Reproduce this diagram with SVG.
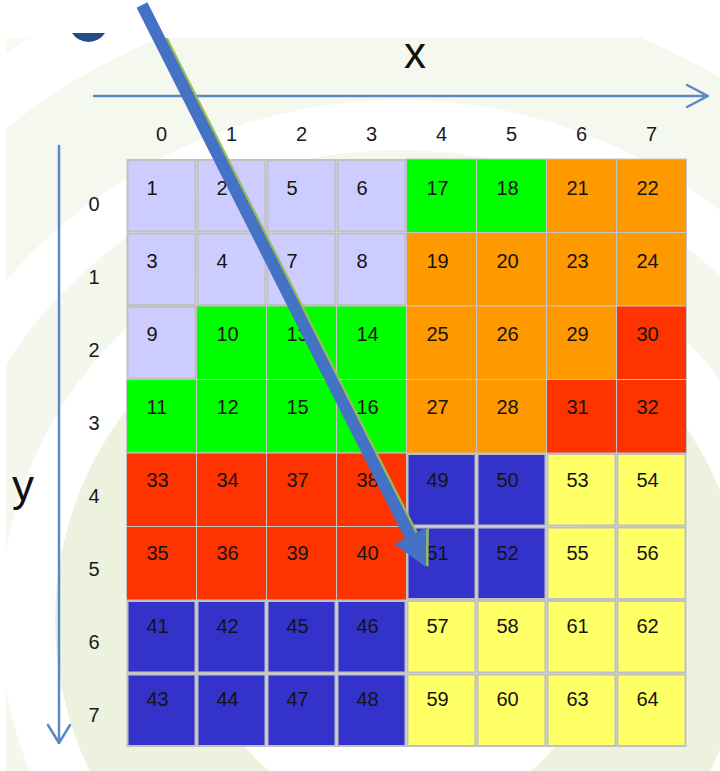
<svg xmlns="http://www.w3.org/2000/svg" width="720" height="771" viewBox="0 0 720 771">
<defs>
<style>
.n{font-family:"Liberation Sans",Arial,sans-serif;font-size:20px;fill:#141414}
.ax{font-family:"Liberation Sans",Arial,sans-serif;font-size:20px;fill:#1a1a1a;text-anchor:middle}
.lbl{font-family:"Liberation Sans",Arial,sans-serif;font-size:44px;fill:#111;text-anchor:middle}
.thin{stroke:#c4c4c4;stroke-width:1}
.gr{fill:#c0c0c0}
.L{fill:#ccccff}.G{fill:#00ff00}.O{fill:#ff9900}.R{fill:#ff3300}.B{fill:#3333cc}.Y{fill:#ffff66}
.axis{fill:none;stroke:#5a89c5;stroke-width:2.5;stroke-linecap:round;stroke-linejoin:round}
</style>
<clipPath id="bg"><rect x="6" y="38" width="714" height="733"/></clipPath>
<clipPath id="below"><rect x="0" y="38" width="720" height="733"/></clipPath>
</defs>
<rect width="720" height="771" fill="#ffffff"/>
<g id="background" clip-path="url(#bg)">
<rect x="6" y="38" width="714" height="733" fill="#f8faf2"/>
<circle cx="400" cy="620" r="690" fill="#ffffff"/>
<circle cx="400" cy="620" r="630" fill="#f5f8ee"/>
<circle cx="400" cy="620" r="520" fill="#ffffff"/>
<circle cx="400" cy="620" r="470" fill="#f4f7ec"/>
<circle cx="400" cy="620" r="400" fill="#ffffff"/>
<circle cx="400" cy="620" r="345" fill="#ecf2de"/>
<circle cx="400" cy="620" r="200" fill="#ffffff"/>
</g>
<path id="logo" d="M72 33 A19.6 19.6 0 0 0 105 33 Z" fill="#224d8b"/>
<g id="axes">
<path class="axis" d="M94 96 H707 M687 85 L708 96 L687 107"/>
<path class="axis" d="M59 146 V743 M48 725 L59 743 L70 725"/>
<text class="lbl" x="415" y="68">x</text>
<text class="lbl" x="23" y="501">y</text>
<text class="ax" x="161.5" y="141">0</text>
<text class="ax" x="231.5" y="141">1</text>
<text class="ax" x="301.5" y="141">2</text>
<text class="ax" x="371.5" y="141">3</text>
<text class="ax" x="441.5" y="141">4</text>
<text class="ax" x="511.5" y="141">5</text>
<text class="ax" x="581.5" y="141">6</text>
<text class="ax" x="651.5" y="141">7</text>
<text class="ax" x="94" y="211">0</text>
<text class="ax" x="94" y="284">1</text>
<text class="ax" x="94" y="357">2</text>
<text class="ax" x="94" y="430">3</text>
<text class="ax" x="94" y="503">4</text>
<text class="ax" x="94" y="576">5</text>
<text class="ax" x="94" y="649">6</text>
<text class="ax" x="94" y="722">7</text>
</g>
<g id="grid-thin">
<g id="c17"><rect class="G thin" x="406.5" y="159" width="70" height="73.5"/><text class="n" x="426.5" y="195">17</text></g>
<g id="c18"><rect class="G thin" x="476.5" y="159" width="70" height="73.5"/><text class="n" x="496.5" y="195">18</text></g>
<g id="c21"><rect class="O thin" x="546.5" y="159" width="70" height="73.5"/><text class="n" x="566.5" y="195">21</text></g>
<g id="c22"><rect class="O thin" x="616.5" y="159" width="70" height="73.5"/><text class="n" x="636.5" y="195">22</text></g>
<g id="c19"><rect class="O thin" x="406.5" y="232.5" width="70" height="73.5"/><text class="n" x="426.5" y="268">19</text></g>
<g id="c20"><rect class="O thin" x="476.5" y="232.5" width="70" height="73.5"/><text class="n" x="496.5" y="268">20</text></g>
<g id="c23"><rect class="O thin" x="546.5" y="232.5" width="70" height="73.5"/><text class="n" x="566.5" y="268">23</text></g>
<g id="c24"><rect class="O thin" x="616.5" y="232.5" width="70" height="73.5"/><text class="n" x="636.5" y="268">24</text></g>
<g id="c10"><rect class="G thin" x="196.5" y="306" width="70" height="73.5"/><text class="n" x="216.5" y="341">10</text></g>
<g id="c13"><rect class="G thin" x="266.5" y="306" width="70" height="73.5"/><text class="n" x="286.5" y="341">13</text></g>
<g id="c14"><rect class="G thin" x="336.5" y="306" width="70" height="73.5"/><text class="n" x="356.5" y="341">14</text></g>
<g id="c25"><rect class="O thin" x="406.5" y="306" width="70" height="73.5"/><text class="n" x="426.5" y="341">25</text></g>
<g id="c26"><rect class="O thin" x="476.5" y="306" width="70" height="73.5"/><text class="n" x="496.5" y="341">26</text></g>
<g id="c29"><rect class="O thin" x="546.5" y="306" width="70" height="73.5"/><text class="n" x="566.5" y="341">29</text></g>
<g id="c30"><rect class="R thin" x="616.5" y="306" width="70" height="73.5"/><text class="n" x="636.5" y="341">30</text></g>
<g id="c11"><rect class="G thin" x="126.5" y="379.5" width="70" height="73.5"/><text class="n" x="146.5" y="414">11</text></g>
<g id="c12"><rect class="G thin" x="196.5" y="379.5" width="70" height="73.5"/><text class="n" x="216.5" y="414">12</text></g>
<g id="c15"><rect class="G thin" x="266.5" y="379.5" width="70" height="73.5"/><text class="n" x="286.5" y="414">15</text></g>
<g id="c16"><rect class="G thin" x="336.5" y="379.5" width="70" height="73.5"/><text class="n" x="356.5" y="414">16</text></g>
<g id="c27"><rect class="O thin" x="406.5" y="379.5" width="70" height="73.5"/><text class="n" x="426.5" y="414">27</text></g>
<g id="c28"><rect class="O thin" x="476.5" y="379.5" width="70" height="73.5"/><text class="n" x="496.5" y="414">28</text></g>
<g id="c31"><rect class="R thin" x="546.5" y="379.5" width="70" height="73.5"/><text class="n" x="566.5" y="414">31</text></g>
<g id="c32"><rect class="R thin" x="616.5" y="379.5" width="70" height="73.5"/><text class="n" x="636.5" y="414">32</text></g>
<g id="c33"><rect class="R thin" x="126.5" y="453" width="70" height="73.5"/><text class="n" x="146.5" y="487">33</text></g>
<g id="c34"><rect class="R thin" x="196.5" y="453" width="70" height="73.5"/><text class="n" x="216.5" y="487">34</text></g>
<g id="c37"><rect class="R thin" x="266.5" y="453" width="70" height="73.5"/><text class="n" x="286.5" y="487">37</text></g>
<g id="c38"><rect class="R thin" x="336.5" y="453" width="70" height="73.5"/><text class="n" x="356.5" y="487">38</text></g>
<g id="c35"><rect class="R thin" x="126.5" y="526.5" width="70" height="73.5"/><text class="n" x="146.5" y="560">35</text></g>
<g id="c36"><rect class="R thin" x="196.5" y="526.5" width="70" height="73.5"/><text class="n" x="216.5" y="560">36</text></g>
<g id="c39"><rect class="R thin" x="266.5" y="526.5" width="70" height="73.5"/><text class="n" x="286.5" y="560">39</text></g>
<g id="c40"><rect class="R thin" x="336.5" y="526.5" width="70" height="73.5"/><text class="n" x="356.5" y="560">40</text></g>
</g>
<g id="grid-thick">
<g id="c1"><rect class="gr" x="126.5" y="159" width="70" height="73.5"/><rect class="L" x="128.5" y="161" width="66" height="69.5"/><text class="n" x="146.5" y="195">1</text></g>
<g id="c2"><rect class="gr" x="196.5" y="159" width="70" height="73.5"/><rect class="L" x="198.5" y="161" width="66" height="69.5"/><text class="n" x="216.5" y="195">2</text></g>
<g id="c5"><rect class="gr" x="266.5" y="159" width="70" height="73.5"/><rect class="L" x="268.5" y="161" width="66" height="69.5"/><text class="n" x="286.5" y="195">5</text></g>
<g id="c6"><rect class="gr" x="336.5" y="159" width="70" height="73.5"/><rect class="L" x="338.5" y="161" width="66" height="69.5"/><text class="n" x="356.5" y="195">6</text></g>
<g id="c3"><rect class="gr" x="126.5" y="232.5" width="70" height="73.5"/><rect class="L" x="128.5" y="234.5" width="66" height="69.5"/><text class="n" x="146.5" y="268">3</text></g>
<g id="c4"><rect class="gr" x="196.5" y="232.5" width="70" height="73.5"/><rect class="L" x="198.5" y="234.5" width="66" height="69.5"/><text class="n" x="216.5" y="268">4</text></g>
<g id="c7"><rect class="gr" x="266.5" y="232.5" width="70" height="73.5"/><rect class="L" x="268.5" y="234.5" width="66" height="69.5"/><text class="n" x="286.5" y="268">7</text></g>
<g id="c8"><rect class="gr" x="336.5" y="232.5" width="70" height="73.5"/><rect class="L" x="338.5" y="234.5" width="66" height="69.5"/><text class="n" x="356.5" y="268">8</text></g>
<g id="c9"><rect class="gr" x="126.5" y="306" width="70" height="73.5"/><rect class="L" x="128.5" y="308" width="66" height="69.5"/><text class="n" x="146.5" y="341">9</text></g>
<g id="c49"><rect class="gr" x="406.5" y="453" width="70" height="73.5"/><rect class="B" x="408.5" y="455" width="66" height="69.5"/><text class="n" x="426.5" y="487">49</text></g>
<g id="c50"><rect class="gr" x="476.5" y="453" width="70" height="73.5"/><rect class="B" x="478.5" y="455" width="66" height="69.5"/><text class="n" x="496.5" y="487">50</text></g>
<g id="c53"><rect class="gr" x="546.5" y="453" width="70" height="73.5"/><rect class="Y" x="548.5" y="455" width="66" height="69.5"/><text class="n" x="566.5" y="487">53</text></g>
<g id="c54"><rect class="gr" x="616.5" y="453" width="70" height="73.5"/><rect class="Y" x="618.5" y="455" width="66" height="69.5"/><text class="n" x="636.5" y="487">54</text></g>
<g id="c51"><rect class="gr" x="406.5" y="526.5" width="70" height="73.5"/><rect class="B" x="408.5" y="528.5" width="66" height="69.5"/><text class="n" x="426.5" y="560">51</text></g>
<g id="c52"><rect class="gr" x="476.5" y="526.5" width="70" height="73.5"/><rect class="B" x="478.5" y="528.5" width="66" height="69.5"/><text class="n" x="496.5" y="560">52</text></g>
<g id="c55"><rect class="gr" x="546.5" y="526.5" width="70" height="73.5"/><rect class="Y" x="548.5" y="528.5" width="66" height="69.5"/><text class="n" x="566.5" y="560">55</text></g>
<g id="c56"><rect class="gr" x="616.5" y="526.5" width="70" height="73.5"/><rect class="Y" x="618.5" y="528.5" width="66" height="69.5"/><text class="n" x="636.5" y="560">56</text></g>
<g id="c41"><rect class="gr" x="126.5" y="600" width="70" height="73.5"/><rect class="B" x="128.5" y="602" width="66" height="69.5"/><text class="n" x="146.5" y="633">41</text></g>
<g id="c42"><rect class="gr" x="196.5" y="600" width="70" height="73.5"/><rect class="B" x="198.5" y="602" width="66" height="69.5"/><text class="n" x="216.5" y="633">42</text></g>
<g id="c45"><rect class="gr" x="266.5" y="600" width="70" height="73.5"/><rect class="B" x="268.5" y="602" width="66" height="69.5"/><text class="n" x="286.5" y="633">45</text></g>
<g id="c46"><rect class="gr" x="336.5" y="600" width="70" height="73.5"/><rect class="B" x="338.5" y="602" width="66" height="69.5"/><text class="n" x="356.5" y="633">46</text></g>
<g id="c57"><rect class="gr" x="406.5" y="600" width="70" height="73.5"/><rect class="Y" x="408.5" y="602" width="66" height="69.5"/><text class="n" x="426.5" y="633">57</text></g>
<g id="c58"><rect class="gr" x="476.5" y="600" width="70" height="73.5"/><rect class="Y" x="478.5" y="602" width="66" height="69.5"/><text class="n" x="496.5" y="633">58</text></g>
<g id="c61"><rect class="gr" x="546.5" y="600" width="70" height="73.5"/><rect class="Y" x="548.5" y="602" width="66" height="69.5"/><text class="n" x="566.5" y="633">61</text></g>
<g id="c62"><rect class="gr" x="616.5" y="600" width="70" height="73.5"/><rect class="Y" x="618.5" y="602" width="66" height="69.5"/><text class="n" x="636.5" y="633">62</text></g>
<g id="c43"><rect class="gr" x="126.5" y="673.5" width="70" height="73.5"/><rect class="B" x="128.5" y="675.5" width="66" height="69.5"/><text class="n" x="146.5" y="706">43</text></g>
<g id="c44"><rect class="gr" x="196.5" y="673.5" width="70" height="73.5"/><rect class="B" x="198.5" y="675.5" width="66" height="69.5"/><text class="n" x="216.5" y="706">44</text></g>
<g id="c47"><rect class="gr" x="266.5" y="673.5" width="70" height="73.5"/><rect class="B" x="268.5" y="675.5" width="66" height="69.5"/><text class="n" x="286.5" y="706">47</text></g>
<g id="c48"><rect class="gr" x="336.5" y="673.5" width="70" height="73.5"/><rect class="B" x="338.5" y="675.5" width="66" height="69.5"/><text class="n" x="356.5" y="706">48</text></g>
<g id="c59"><rect class="gr" x="406.5" y="673.5" width="70" height="73.5"/><rect class="Y" x="408.5" y="675.5" width="66" height="69.5"/><text class="n" x="426.5" y="706">59</text></g>
<g id="c60"><rect class="gr" x="476.5" y="673.5" width="70" height="73.5"/><rect class="Y" x="478.5" y="675.5" width="66" height="69.5"/><text class="n" x="496.5" y="706">60</text></g>
<g id="c63"><rect class="gr" x="546.5" y="673.5" width="70" height="73.5"/><rect class="Y" x="548.5" y="675.5" width="66" height="69.5"/><text class="n" x="566.5" y="706">63</text></g>
<g id="c64"><rect class="gr" x="616.5" y="673.5" width="70" height="73.5"/><rect class="Y" x="618.5" y="675.5" width="66" height="69.5"/><text class="n" x="636.5" y="706">64</text></g>
</g>
<g id="connectors">
<polygon clip-path="url(#below)" points="139.1,7.7 149.9,2.3 418.1,533.1 428.8,527.7 428.5,567 396.6,543.9 407.3,538.5" fill="#9bbb59"/>
<polygon points="136.6,7.7 147.4,2.3 415.6,533.1 426.3,527.7 426,567 394.1,543.9 404.8,538.5" fill="#4472c4"/>
</g>
</svg>
